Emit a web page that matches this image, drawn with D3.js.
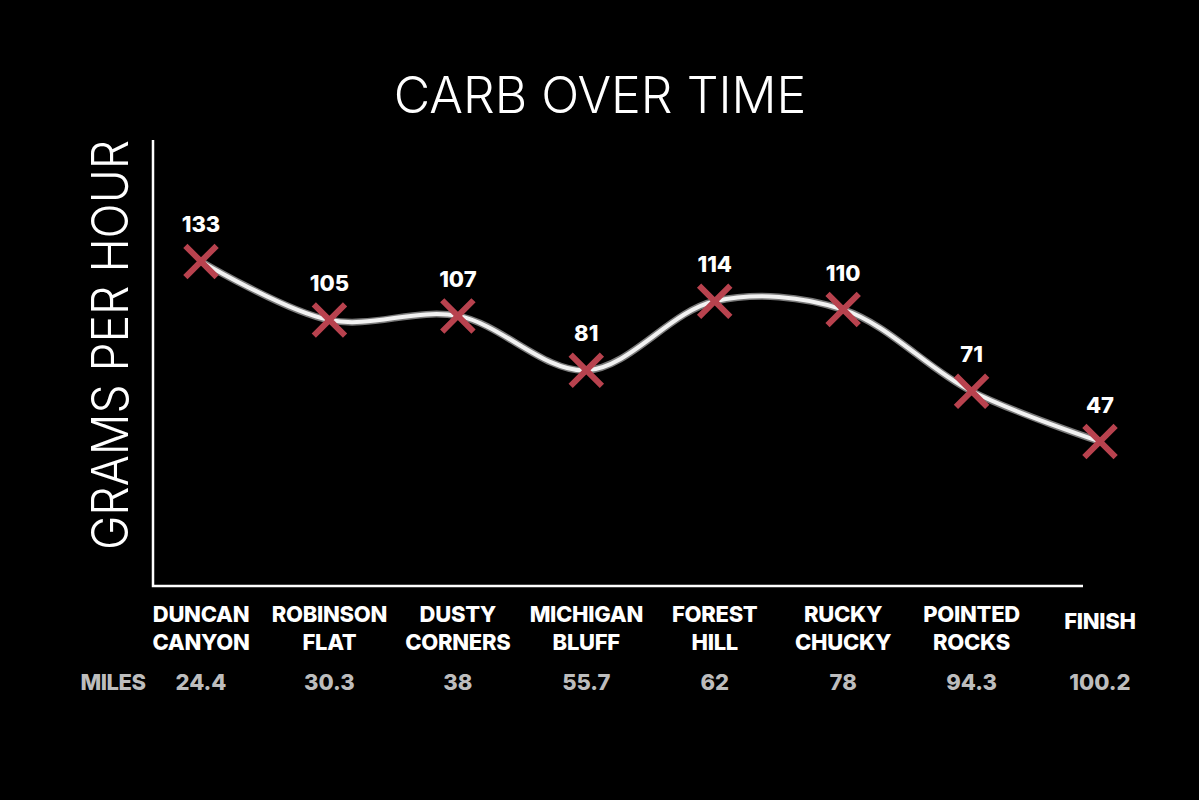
<!DOCTYPE html>
<html>
<head>
<meta charset="utf-8">
<script src="https://cdn.jsdelivr.net/npm/d3@7"></script>
<style>
  html, body { margin: 0; padding: 0; background: #000; }
  svg { display: block; }
</style>
</head>
<body>
<svg id="chart" width="1199" height="800"></svg>
<script>
// aid stations along the course
const stations = [
  ["DUNCAN", "CANYON"],
  ["ROBINSON", "FLAT"],
  ["DUSTY", "CORNERS"],
  ["MICHIGAN", "BLUFF"],
  ["FOREST", "HILL"],
  ["RUCKY", "CHUCKY"],
  ["POINTED", "ROCKS"],
  ["FINISH"]
];
const miles = ["24.4", "30.3", "38", "55.7", "62", "78", "94.3", "100.2"];
const carbs = [133, 105, 107, 81, 114, 110, 71, 47];

const svg = d3.select("#chart");
const W = +svg.attr("width");
const H = +svg.attr("height");

svg.append("rect").attr("width", W).attr("height", H).attr("fill", "#000");

const axisLeft = 153, axisBottom = 586, axisTop = 140, axisRight = 1083;

const x = d3.scalePoint()
  .domain(d3.range(stations.length))
  .range([201, 1100]);

const y = d3.scaleLinear()
  .domain([-22, 191])
  .range([axisBottom, axisTop]);

// Titre
svg.append("text")
  .attr("x", 600)
  .attr("y", 113)
  .attr("text-anchor", "middle")
  .attr("fill", "#fff")
  .style("font-family", "Inter, Lato, sans-serif")
  .style("font-weight", 300)
  .style("font-size", "50px")
  .text("CARB OVER TIME");

// Y label
svg.append("text")
  .attr("transform", `translate(128,345) rotate(-90)`)
  .attr("text-anchor", "middle")
  .attr("fill", "#fff")
  .attr("textLength", 410)
  .attr("lengthAdjust", "spacingAndGlyphs")
  .style("font-family", "Inter, Lato, sans-serif")
  .style("font-weight", 300)
  .style("font-size", "50px")
  .text("GRAMS PER HOUR");

// axes lines (no ticks)
svg.append("path")
  .attr("fill", "none")
  .attr("stroke", "#fff")
  .attr("stroke-width", 2.5)
  .attr("d", `M${axisLeft},${axisTop}V${axisBottom}H${axisRight}`);

// courbe
const line = d3.line()
  .x((d, i) => x(i))
  .y(d => y(d))
  .curve(d3.curveCatmullRom.alpha(0.5));

svg.append("path")
  .attr("fill", "none")
  .attr("stroke", "#7a7a7a")
  .attr("stroke-width", 7)
  .attr("d", line(carbs));

svg.append("path")
  .attr("fill", "none")
  .attr("stroke", "#f2f2f2")
  .attr("stroke-width", 4)
  .attr("d", line(carbs));

// markers X
const xSym = d3.symbol().type(d3.symbolX).size(640);
svg.selectAll(".mark")
  .data(carbs)
  .enter()
  .append("path")
  .attr("class", "mark")
  .attr("transform", (d, i) => `translate(${x(i)},${y(d)})`)
  .attr("d", xSym)
  .attr("fill", "none")
  .attr("stroke", "#b8424e")
  .attr("stroke-width", 6);

// valeurs
svg.selectAll(".val")
  .data(carbs)
  .enter()
  .append("text")
  .attr("class", "val")
  .attr("x", (d, i) => x(i))
  .attr("y", d => y(d) - 29)
  .attr("text-anchor", "middle")
  .attr("fill", "#fff")
  .style("font-family", "Inter, Lato, sans-serif")
  .style("font-weight", 800)
  .style("font-size", "22px")
  .text(d => d);

// station labels
const lab = svg.selectAll(".station")
  .data(stations)
  .enter()
  .append("text")
  .attr("class", "station")
  .attr("x", (d, i) => x(i))
  .attr("y", d => d.length === 1 ? 629 : 622)
  .attr("text-anchor", "middle")
  .attr("fill", "#fff")
  .style("font-family", "Inter, Lato, sans-serif")
  .style("font-weight", 800)
  .style("font-size", "22px")
  .style("letter-spacing", "-0.3px");

lab.selectAll("tspan")
  .data(d => d)
  .enter()
  .append("tspan")
  .attr("x", function () { return d3.select(this.parentNode).attr("x"); })
  .attr("dy", (d, i) => i === 0 ? 0 : 28)
  .text(d => d);

// miles row
svg.append("text")
  .attr("x", 113)
  .attr("y", 690)
  .attr("text-anchor", "middle")
  .attr("fill", "#bdbdbd")
  .style("font-family", "Inter, Lato, sans-serif")
  .style("font-weight", 800)
  .style("font-size", "22px")
  .style("letter-spacing", "-0.5px")
  .text("MILES");

svg.selectAll(".mile")
  .data(miles)
  .enter()
  .append("text")
  .attr("class", "mile")
  .attr("x", (d, i) => x(i))
  .attr("y", 690)
  .attr("text-anchor", "middle")
  .attr("fill", "#bdbdbd")
  .style("font-family", "Inter, Lato, sans-serif")
  .style("font-weight", 800)
  .style("font-size", "22px")
  .text(d => d);
</script>
</body>
</html>
